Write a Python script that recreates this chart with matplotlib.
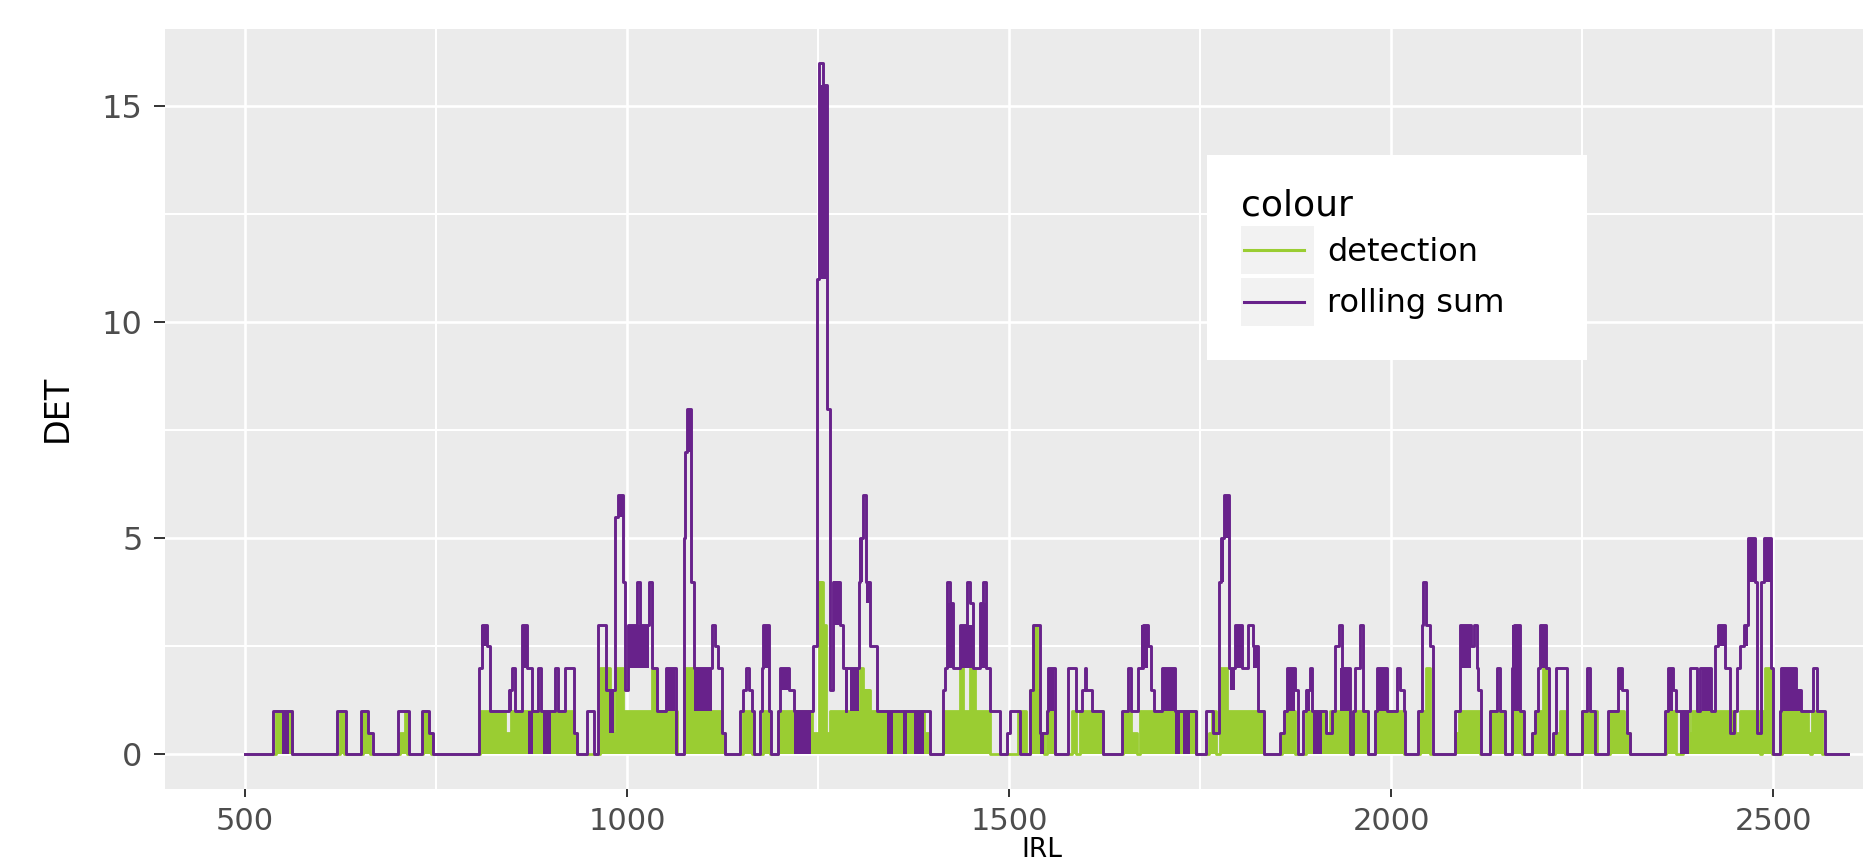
import matplotlib
matplotlib.use("Agg")
import matplotlib.pyplot as plt
from matplotlib.patches import Rectangle
from matplotlib.lines import Line2D
from matplotlib.legend_handler import HandlerBase

# ---------------- data ----------------
# detection: step breakpoints (value holds until next x)
det_x = [500, 541, 561, 624, 629, 655, 659, 664, 703, 710, 712, 733, 738, 744,
         807, 840, 848, 931, 935, 965, 978, 982, 986, 995, 1032, 1036, 1065,
         1074, 1089, 1124, 1128, 1152, 1163, 1178, 1187, 1198, 1242, 1251,
         1256, 1260, 1265, 1305, 1309, 1318, 1388, 1396, 1414, 1436, 1440,
         1449, 1455, 1475, 1511, 1522, 1527, 1532, 1537, 1540, 1545, 1549,
         1560, 1582, 1588, 1593, 1623, 1649, 1660, 1667, 1671, 1745, 1761,
         1766, 1771, 1776, 1785, 1833, 1857, 1861, 1874, 1889, 1915, 1920,
         1946, 1950, 1970, 1979, 2016, 2038, 2046, 2051, 2083, 2088, 2116,
         2129, 2149, 2158, 2171, 2184, 2188, 2199, 2205, 2214, 2221, 2227,
         2249, 2269, 2286, 2304, 2312, 2360, 2373, 2382, 2389, 2393, 2450,
         2456, 2482, 2485, 2489, 2498, 2511, 2545, 2548, 2550, 2563, 2598]
det_y = [0, 1, 0, 1, 0, 1, 0.5, 0, 0.5, 1, 0, 1, 0.5, 0,
         1, 0.5, 1, 0.5, 0, 2, 1.5, 0.5, 2, 1, 2, 1, 0,
         2, 1, 0.5, 0, 1, 0, 1, 0, 1, 0.5, 4,
         3, 0.5, 1, 2, 1.5, 1, 0.5, 0, 1, 2, 1,
         2, 1, 0, 1, 0, 1.5, 3, 1.5, 0.5, 0, 1,
         0, 1, 0, 1, 0, 1, 0.5, 0, 1, 0, 0.5,
         1, 0, 2, 1, 0, 0.5, 1, 0, 1, 0.5, 1,
         0, 1, 0, 1, 0, 1, 2, 0, 0.5, 1, 0,
         1, 0, 1, 0, 0.5, 1, 2, 0, 0.5, 1, 0,
         1, 0, 1, 0.5, 0, 1, 0, 1, 0.5, 1, 0.5,
         1, 0, 1, 2, 0, 1, 0.5, 0, 1, 0, 0]

# rolling sum: step breakpoints
roll_x = [500, 537, 562, 621, 632, 652, 661, 667, 700, 715, 731, 741, 746,
          806, 810, 817, 821, 845, 850, 853, 862, 869, 875, 883, 887, 906,
          910, 919, 931, 935, 947, 957, 962, 973, 984, 988, 994, 997, 1001,
          1013, 1017, 1029, 1033, 1039, 1051, 1064, 1074, 1076, 1079, 1084,
          1088, 1111, 1115, 1119, 1124, 1128, 1148, 1152, 1156, 1160, 1163,
          1166, 1174, 1176, 1178, 1186, 1188, 1198, 1200, 1212, 1218, 1243,
          1249, 1251.5, 1256, 1261, 1265.5, 1270, 1279, 1283, 1286, 1287,
          1292, 1303, 1305, 1309, 1313, 1318, 1327, 1396, 1414, 1416, 1418,
          1422, 1427, 1436, 1445, 1449, 1453, 1462, 1466, 1470, 1475, 1488,
          1497, 1501, 1514, 1527, 1531, 1540, 1549, 1551, 1560, 1577, 1588,
          1595, 1599, 1601, 1608, 1623, 1647, 1656, 1660, 1669, 1675, 1682,
          1686, 1689, 1700, 1717, 1745, 1758, 1767, 1774, 1777, 1781, 1787,
          1796, 1804, 1813, 1819, 1826, 1833, 1854, 1859, 1863, 1874, 1878,
          1885, 1889, 1894, 1896, 1915, 1922, 1926, 1931, 1935, 1946, 1950,
          1952, 1959, 1963, 1970, 1979, 1981, 1994, 2007, 2011, 2016, 2018,
          2035, 2040, 2042, 2046, 2051, 2055, 2083, 2090, 2104, 2108, 2112,
          2114, 2118, 2129, 2138, 2142, 2149, 2158, 2160, 2168, 2173, 2184,
          2188, 2192, 2195, 2203, 2207, 2212, 2216, 2230, 2249, 2256, 2260,
          2267, 2284, 2297, 2302, 2308, 2312, 2358, 2362, 2369, 2373, 2391,
          2400, 2404, 2419, 2424, 2428, 2437, 2443, 2448, 2452, 2456, 2462,
          2467, 2476, 2479, 2484, 2488, 2497, 2499, 2509, 2510, 2529, 2536,
          2552, 2557, 2567, 2598]
roll_y = [0, 1, 0, 1, 0, 1, 0.5, 0, 1, 0, 1, 0.5, 0,
          2, 3, 2.5, 1, 1.5, 2, 1, 3, 2, 1, 2, 1, 2,
          1, 2, 0.5, 0, 1, 0, 3, 1.5, 5.5, 6, 4, 1.5, 3,
          4, 3, 4, 2, 1, 2, 0, 5, 7, 8, 4,
          2, 3, 2.5, 2, 0.5, 0, 1, 1.5, 2, 1.5, 1,
          0, 1, 2, 3, 1, 0, 1, 2, 1.5, 1, 2.5,
          11, 16, 15.5, 8, 1.5, 4, 3, 2, 1, 2,
          2, 4, 5, 6, 4, 2.5, 1, 0, 1.5, 2, 4,
          3.5, 2, 3, 4, 3.5, 2, 3.5, 4, 2, 1, 0,
          0.5, 1, 0, 1.5, 3, 0.5, 1, 2, 0, 2, 1,
          1.5, 2, 1.5, 1, 0, 1, 2, 1, 2, 3, 2.5,
          1.5, 1, 2, 1, 0, 1, 0.5, 4, 5, 6, 2,
          3, 2, 3, 2.5, 1, 0, 0.5, 1, 2, 1.5, 0,
          1, 1.5, 2, 1, 0.5, 1, 2.5, 3, 2, 0, 1,
          2, 3, 1, 0, 1, 2, 1, 2, 1.5, 1, 0,
          1, 3, 4, 3, 2.5, 0, 1, 3, 2.5, 3, 2,
          1.5, 0, 1, 2, 1, 0, 2, 3, 1, 0, 0.5,
          1, 2, 3, 2, 0, 0.5, 2, 0, 1, 2, 1,
          0, 1, 2, 1.5, 0.5, 0, 1, 2, 1.5, 1, 2,
          1, 2, 1, 2.5, 3, 2, 0.5, 1, 2, 2.5, 3,
          5, 4, 0.5, 4, 5, 2, 0, 1, 2, 1.5, 1,
          2, 1, 0, 0]

# rolling sum: stretches where the value flips quickly between two levels
band_x0 = [548, 809, 845, 862, 870, 890, 976, 989, 1001, 1051, 1078, 1087,
           1178, 1200, 1218, 1251.5, 1270, 1292, 1303, 1313, 1340, 1361, 1375,
           1420, 1437, 1463, 1540, 1551, 1673, 1700, 1717, 1728, 1777, 1781,
           1789, 1796, 1819, 1863, 1889, 1898, 1933, 1981, 2090, 2158, 2195,
           2297, 2362, 2378, 2406, 2428, 2462, 2467, 2488, 2510, 2529]
band_x1 = [557, 817, 849, 869, 877, 901, 983, 994, 1029, 1063, 1084, 1111,
           1186, 1212, 1241, 1261, 1279, 1303, 1309, 1318, 1348, 1366, 1388,
           1427, 1453, 1470, 1545, 1558, 1682, 1717, 1724, 1737, 1781, 1787,
           1796, 1804, 1826, 1874, 1893, 1909, 1946, 1994, 2104, 2168, 2203,
           2302, 2369, 2389, 2419, 2437, 2467, 2476, 2497, 2529, 2536]
band_lo = [0, 2.5, 1, 2, 0, 0, 0.5, 5.5, 2, 1, 7, 1,
           2, 1.5, 0, 11, 3, 1, 4, 3.5, 0, 0, 0,
           2, 2, 2, 0, 1, 2, 1, 0, 0, 4, 5,
           1.5, 2, 2, 1, 1, 0, 1, 1, 2, 1, 2,
           1.5, 1, 0, 1, 2.5, 2.5, 4, 4, 1, 1]
band_hi = [1, 3, 1.5, 3, 1, 1, 1.5, 6, 3, 2, 8, 2,
           3, 2, 1, 15.5, 4, 2, 5, 4, 1, 1, 1,
           3.5, 3, 3.5, 0.5, 2, 3, 2, 1, 1, 5, 6,
           2, 3, 2.5, 2, 1.5, 1, 2, 2, 3, 3, 3,
           2, 2, 1, 2, 3, 3, 5, 5, 2, 1.5]

x_ticks = [500, 1000, 1500, 2000, 2500]
x_minor = [750, 1250, 1750, 2250]
y_ticks = [0, 5, 10, 15]
y_minor = [2.5, 7.5, 12.5]
series_names = ["detection", "rolling sum"]

GREEN = "#9ACD32"
PURPLE = "#68228B"

# ---------------- figure ----------------
W, H = 1863, 864
fig = plt.figure(figsize=(W / 100, H / 100), dpi=100)
fig.patch.set_facecolor("white")

# ggplot-style 5% expansion
xmin, xmax = min(roll_x), max(roll_x)
ymin, ymax = 0, max(roll_y)
xr, yr = xmax - xmin, ymax - ymin
xlim = (xmin - 0.05 * xr, xmax + 0.05 * xr)
ylim = (ymin - 0.05 * yr, ymax + 0.05 * yr)

# panel placement in pixels (panel runs past right edge of the image)
px_per_x = 0.7642
px_per_y = 43.2
x500_px = 245.0
y0_px = 754.3
left_px = x500_px + (xlim[0] - 500) * px_per_x
right_px = x500_px + (xlim[1] - 500) * px_per_x
top_px = y0_px - ylim[1] * px_per_y
bot_px = y0_px - ylim[0] * px_per_y
ax = fig.add_axes([left_px / W, 1 - bot_px / H,
                   (right_px - left_px) / W, (bot_px - top_px) / H])
ax.set_xlim(*xlim)
ax.set_ylim(*ylim)
ax.set_facecolor("#EBEBEB")
for s in ax.spines.values():
    s.set_visible(False)

ax.set_xticks(x_ticks)
ax.set_xticks(x_minor, minor=True)
ax.set_yticks(y_ticks)
ax.set_yticks(y_minor, minor=True)
ax.set_xticklabels([str(v) for v in x_ticks])
ax.set_yticklabels([str(v) for v in y_ticks])
ax.grid(which="major", color="white", lw=1.9, zorder=0)
ax.grid(which="minor", color="white", lw=1.5, zorder=0)
ax.set_axisbelow(True)
ax.tick_params(which="minor", length=0)
ax.tick_params(axis="x", which="major", length=6, width=1.4, color="#333333",
               labelsize=22, labelcolor="#4D4D4D", pad=7)
ax.tick_params(axis="y", which="major", length=8, width=1.4, color="#333333",
               labelsize=23, labelcolor="#4D4D4D", pad=8)

# detection
ax.fill_between(det_x, 0, det_y, step="post", color=GREEN, lw=0, zorder=2)
l_det, = ax.step(det_x, det_y, where="post", color=GREEN, lw=2.0, zorder=3,
                 label=series_names[0])

# rolling sum
ax.bar(band_x0, [h - l for h, l in zip(band_hi, band_lo)],
       width=[b - a for a, b in zip(band_x0, band_x1)], bottom=band_lo,
       align="edge", color=PURPLE, lw=0, zorder=4)
l_roll, = ax.step(roll_x, roll_y, where="post", color=PURPLE, lw=2.1, zorder=5,
                  label=series_names[1])

# axis titles
ax.set_ylabel("DET", fontsize=24, color="black")
ax.yaxis.set_label_coords((73.7 - left_px) / (right_px - left_px), 0.5)
ax.set_xlabel("IRL", fontsize=19, color="black", va="bottom")
ax.xaxis.set_label_coords((1042 - left_px) / (right_px - left_px),
                          (bot_px - 863) / (bot_px - top_px))


# legend with grey key backgrounds
class KeyHandler(HandlerBase):
    def create_artists(self, legend, orig_handle, xdescent, ydescent,
                       width, height, fontsize, trans):
        rect = Rectangle((-xdescent, -ydescent), width, height,
                         facecolor="#F2F2F2", edgecolor="none", transform=trans)
        yc = -ydescent + height / 2
        line = Line2D([-xdescent + 0.05 * width, -xdescent + 0.87 * width],
                      [yc, yc], color=orig_handle.get_color(), lw=2.2,
                      transform=trans)
        return [rect, line]


leg = ax.legend(handles=[l_det, l_roll], labels=series_names, title="colour",
                handler_map={Line2D: KeyHandler()},
                loc="upper left",
                bbox_to_anchor=(1207 / W, 1 - 155 / H - 0.01,
                                (1587 - 1207) / W, 0.01),
                bbox_transform=fig.transFigure, mode="expand",
                fontsize=23, title_fontsize=26, alignment="left",
                frameon=True, fancybox=False, framealpha=1, edgecolor="white",
                facecolor="white", borderpad=1.05, handlelength=2.3,
                handleheight=1.93, handletextpad=0.4, labelspacing=0.12,
                borderaxespad=0)
leg.get_frame().set_linewidth(0)
for t in leg.get_texts():
    t.set_color("black")

fig.savefig("out.png", dpi=100, facecolor="white")
